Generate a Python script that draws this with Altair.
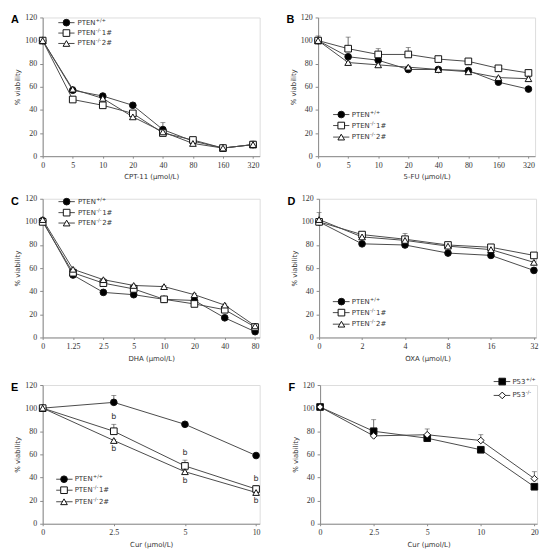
import json
import pandas as pd
import altair as alt

# ---------------- data ----------------
# Panel A : CPT-11
A_conc = ["0", "5", "10", "20", "40", "80", "160", "320"]
A_wt = [100, 57, 52, 44, 23, 13, 7, 10]
A_ko1 = [100, 49, 44, 37, 20, 14, 7, 10]
A_ko2 = [100, 58, 50, 34, 21, 11, 7, 10]
A_wt_err = [1, 1, 2, 2, 6, 1, 1, 1]
A_ko1_err = [1, 1, 1, 1, 1, 1, 1, 1]
A_ko2_err = [1, 2, 1, 1, 1, 1, 1, 3]

# Panel B : 5-FU
B_conc = ["0", "5", "10", "20", "40", "80", "160", "320"]
B_wt = [100, 86, 83, 75, 75, 74, 64, 58]
B_ko1 = [100, 93, 88, 88, 84, 82, 76, 72]
B_ko2 = [100, 81, 79, 77, 75, 73, 68, 67]
B_wt_err = [1, 2, 1, 1, 1, 1, 1, 1]
B_ko1_err = [4, 10, 5, 6, 1, 1, 1, 1]
B_ko2_err = [1, 1, 1, 1, 1, 1, 1, 1]

# Panel C : DHA
C_conc = ["0", "1.25", "2.5", "5", "10", "20", "40", "80"]
C_wt = [101, 54, 39, 37, 33, 32, 17, 5]
C_ko1 = [100, 56, 47, 42, 33, 29, 24, 9]
C_ko2 = [102, 59, 50, 45, 44, 37, 28, 10]
C_wt_err = [1, 1, 1, 1, 1, 1, 1, 1]
C_ko1_err = [1, 1, 1, 1, 1, 1, 1, 1]
C_ko2_err = [2, 1, 1, 1, 1, 1, 1, 2]

# Panel D : OXA
D_conc = ["0", "2", "4", "8", "16", "32"]
D_wt = [100, 81, 80, 73, 71, 58]
D_ko1 = [100, 89, 85, 80, 78, 71]
D_ko2 = [102, 87, 84, 79, 76, 65]
D_wt_err = [1, 1, 1, 1, 1, 1]
D_ko1_err = [1, 1, 5, 1, 1, 1]
D_ko2_err = [6, 1, 1, 1, 1, 1]

# Panel E : Cur (PTEN)
E_conc = ["0", "2.5", "5", "10"]
E_wt = [100, 105, 86, 59]
E_ko1 = [100, 80, 50, 30]
E_ko2 = [100, 72, 45, 27]
E_wt_err = [1, 6, 1, 1]
E_ko1_err = [1, 6, 5, 3]
E_ko2_err = [1, 1, 1, 1]
E_sig_idx = [1, 2, 3]
E_sig_text = ["b", "b", "b"]

# Panel F : Cur (P53)
F_conc = ["0", "2.5", "5", "10", "20"]
F_wt = [101, 80, 74, 64, 32]
F_ko = [101, 76, 77, 72, 39]
F_wt_err = [1, 10, 1, 1, 1]
F_ko_err = [1, 1, 5, 5, 6]

# legend text parts: (main, superscript, suffix)
LABELS = {
    "wt": ("PTEN", "+/+", ""),
    "ko1": ("PTEN", "-/-", "1#"),
    "ko2": ("PTEN", "-/-", "2#"),
    "p53wt": ("P53", "+/+", ""),
    "p53ko": ("P53", "-/-", ""),
}

# ---------------- style ----------------
KEYS = ["wt", "ko1", "ko2", "p53wt", "p53ko"]
SHAPES = {"wt": "circle", "ko1": "square", "ko2": "triangle-up",
          "p53wt": "square", "p53ko": "diamond"}
FILLS = {"wt": "#000000", "ko1": "#ffffff", "ko2": "#ffffff",
         "p53wt": "#000000", "p53ko": "#ffffff"}
LINE = "#4a4a4a"
W, H = 219, 140

axis_style = dict(grid=False, domainColor="#8a8a8a", tickColor="#8a8a8a",
                  labelFont="Liberation Serif", labelFontSize=8, labelColor="#333333",
                  titleFont="DejaVu Sans", titleFontSize=7, titleColor="#333333",
                  titleFontWeight="normal", labelFlush=False, labelOverlap=False,
                  labelPadding=3, titlePadding=4)

shape_scale = alt.Scale(domain=KEYS, range=[SHAPES[k] for k in KEYS])
fill_scale = alt.Scale(domain=KEYS, range=[FILLS[k] for k in KEYS])


def panel(letter, conc, series, dmax, xtitle, leg, annot=None):
    rows = []
    for key, vals, errs in series:
        for i, (v, e) in enumerate(zip(vals, errs)):
            rows.append(dict(idx=i, value=v, top=v + e, series=key))
    df = pd.DataFrame(rows)
    keys = [s[0] for s in series]

    xscale = alt.Scale(domain=[0, dmax], nice=False, zero=False)
    yscale = alt.Scale(domain=[0, 120], nice=False)
    xaxis = alt.Axis(values=list(range(len(conc))),
                     labelExpr=f"{json.dumps(conc)}[datum.value]",
                     title=xtitle, tickSize=2, **axis_style)
    yaxis = alt.Axis(values=[0, 20, 40, 60, 80, 100, 120], title="% viability",
                     tickSize=3, **axis_style)

    def X(f):
        return alt.X(f, type="quantitative", scale=xscale, axis=xaxis)

    def Y(f):
        return alt.Y(f, type="quantitative", scale=yscale, axis=yaxis)

    shape = alt.Shape("series:N", scale=shape_scale, legend=None)
    fill = alt.Fill("series:N", scale=fill_scale, legend=None)

    base = alt.Chart(df)
    lines = base.mark_line(color=LINE, strokeWidth=1).encode(
        x=X("idx"), y=Y("value"), detail="series:N")
    err = base.mark_rule(color=LINE, strokeWidth=0.8).encode(
        x=X("idx"), y=Y("value"), y2=alt.Y2("top"))
    cap = base.mark_tick(orient="horizontal", size=5, thickness=0.8, color=LINE).encode(
        x=X("idx"), y=Y("top"))
    pts = base.mark_point(filled=True, size=45, strokeWidth=1, opacity=1).encode(
        x=X("idx"), y=Y("value"), shape=shape, fill=fill, stroke=alt.value("#111111"))

    # legend (drawn inside the plot)
    x0, x1, xm, xt, ys = leg
    ldf = pd.DataFrame({
        "series": keys,
        "x0": [x0] * len(keys), "x1": [x1] * len(keys),
        "xm": [xm] * len(keys), "xt": [xt] * len(keys),
        "ly": ys[:len(keys)],
        "main": [LABELS[k][0] for k in keys],
        "sup": [LABELS[k][1] for k in keys],
        "suf": [LABELS[k][2] for k in keys],
    })
    main_w = 18.5 if LABELS[keys[0]][0] == "PTEN" else 13.5
    lb = alt.Chart(ldf)
    l_line = lb.mark_rule(color=LINE, strokeWidth=1).encode(
        x=X("x0"), x2=alt.X2("x1"), y=Y("ly"))
    l_pts = lb.mark_point(filled=True, size=45, strokeWidth=1, opacity=1).encode(
        x=X("xm"), y=Y("ly"), shape=shape, fill=fill, stroke=alt.value("#111111"))
    l_main = lb.mark_text(align="left", baseline="middle", font="DejaVu Sans",
                          fontSize=7, color="#333333").encode(x=X("xt"), y=Y("ly"), text="main:N")
    l_sup = lb.mark_text(align="left", baseline="middle", font="DejaVu Sans",
                         fontSize=5, color="#333333", dx=main_w, dy=-3).encode(
        x=X("xt"), y=Y("ly"), text="sup:N")
    l_suf = lb.mark_text(align="left", baseline="middle", font="DejaVu Sans",
                         fontSize=7, color="#333333", dx=main_w + 6).encode(
        x=X("xt"), y=Y("ly"), text="suf:N")

    letter_layer = alt.Chart(pd.DataFrame({"t": [letter]})).mark_text(
        align="left", baseline="top", font="Liberation Sans", fontWeight="bold",
        fontSize=11, color="#000000").encode(x=alt.value(-32), y=alt.value(-3), text="t:N")

    layers = [lines, err, cap]
    if annot is not None:
        layers += annot(df, X, Y)
    layers += [pts, l_line, l_pts, l_main, l_sup, l_suf, letter_layer]
    return alt.layer(*layers).properties(width=W, height=H)


def e_annot(df, X, Y):
    above = df[(df.series == "ko1") & (df.idx.isin(E_sig_idx))].copy()
    above["txt"] = E_sig_text
    below = df[(df.series == "ko2") & (df.idx.isin(E_sig_idx))].copy()
    below["txt"] = E_sig_text
    t_above = alt.Chart(above).mark_text(baseline="bottom", dy=-3, font="DejaVu Sans",
                                         fontSize=8, color="#333333").encode(
        x=X("idx"), y=Y("top"), text="txt:N")
    t_below = alt.Chart(below).mark_text(baseline="top", dy=5, font="DejaVu Sans",
                                         fontSize=8, color="#333333").encode(
        x=X("idx"), y=Y("value"), text="txt:N")
    return [t_above, t_below]


pA = panel("A", A_conc, [("wt", A_wt, A_wt_err), ("ko1", A_ko1, A_ko1_err), ("ko2", A_ko2, A_ko2_err)],
           7.22, "CPT-11 (μmol/L)", (0.52, 1.06, 0.79, 1.16, [115.5, 106.5, 97.5]))
pB = panel("B", B_conc, [("wt", B_wt, B_wt_err), ("ko1", B_ko1, B_ko1_err), ("ko2", B_ko2, B_ko2_err)],
           7.22, "5-FU (μmol/L)", (0.5, 1.04, 0.77, 1.12, [36, 26.5, 16.5]))
pC = panel("C", C_conc, [("wt", C_wt, C_wt_err), ("ko1", C_ko1, C_ko1_err), ("ko2", C_ko2, C_ko2_err)],
           7.15, "DHA (μmol/L)", (0.52, 1.06, 0.79, 1.16, [117.5, 108, 99]))
pD = panel("D", D_conc, [("wt", D_wt, D_wt_err), ("ko1", D_ko1, D_ko1_err), ("ko2", D_ko2, D_ko2_err)],
           5.05, "OXA (μmol/L)", (0.32, 0.71, 0.52, 0.76, [31, 21.5, 11.5]))
pE = panel("E", E_conc, [("wt", E_wt, E_wt_err), ("ko1", E_ko1, E_ko1_err), ("ko2", E_ko2, E_ko2_err)],
           3.05, "Cur (μmol/L)", (0.19, 0.42, 0.3, 0.45, [38.5, 29, 19]), annot=e_annot)
pF = panel("F", F_conc, [("p53wt", F_wt, F_wt_err), ("p53ko", F_ko, F_ko_err)],
           4.05, "Cur (μmol/L)", (3.24, 3.55, 3.4, 3.59, [123, 111]))

chart = alt.vconcat(
    alt.hconcat(pA, pB, spacing=25),
    alt.hconcat(pC, pD, spacing=25),
    alt.hconcat(pE, pF, spacing=25),
    spacing=13,
).properties(padding={"left": 2, "top": 2, "right": 2, "bottom": 2}
).configure_view(stroke=None).configure(background="white")

chart.save("out.html", embed_options={"renderer": "svg", "actions": False})
